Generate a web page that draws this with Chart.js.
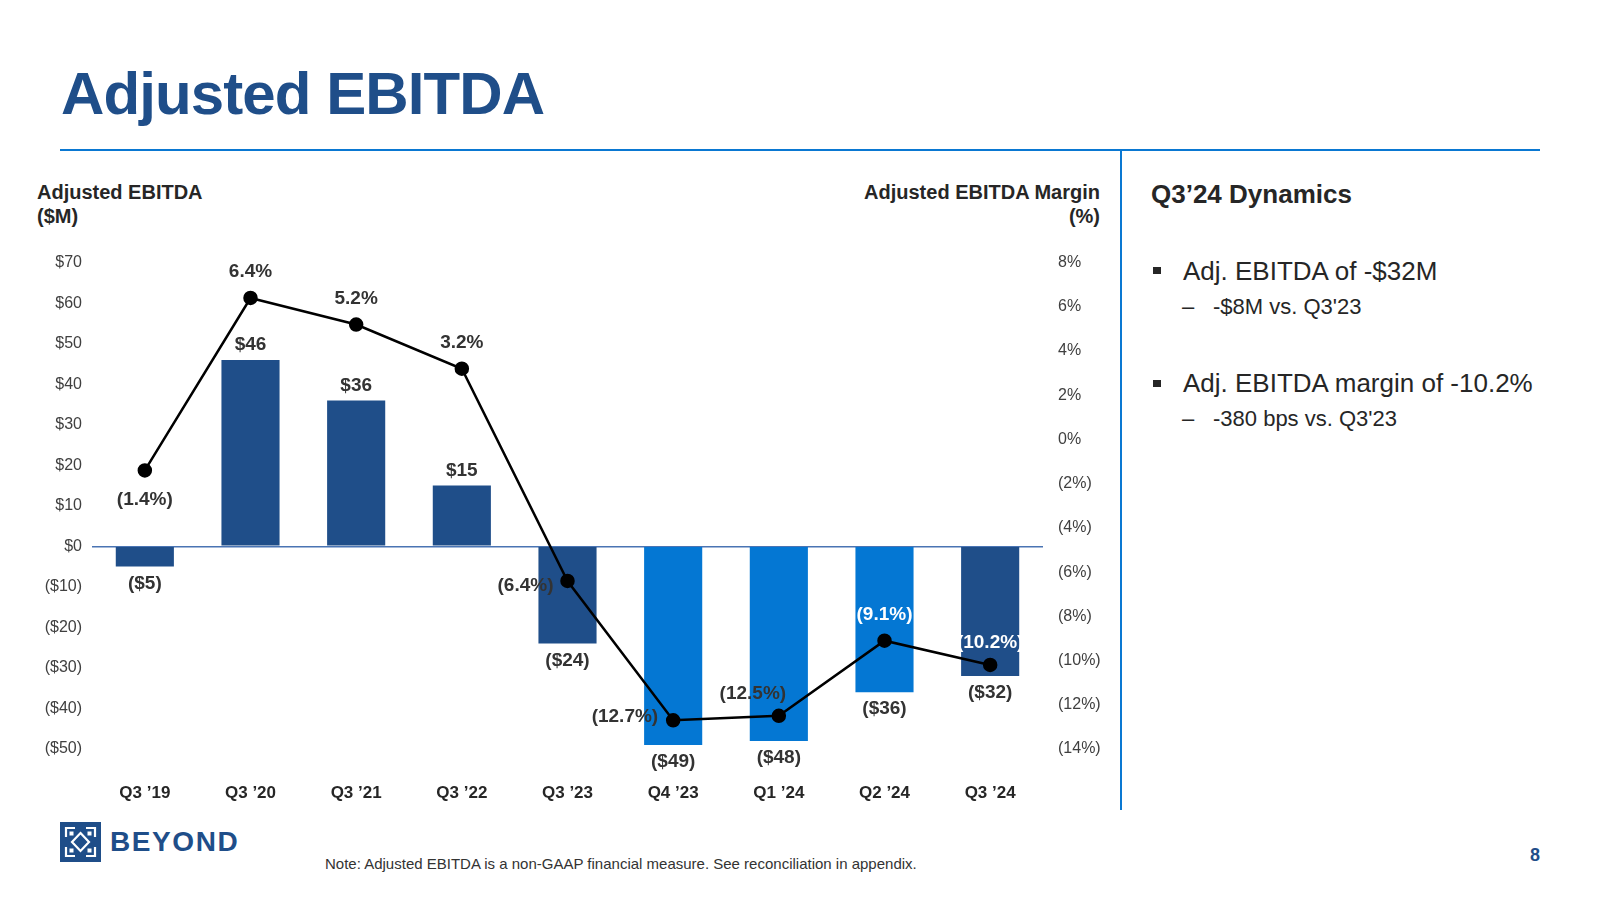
<!DOCTYPE html>
<html lang="en">
<head>
<meta charset="utf-8">
<title>Adjusted EBITDA</title>
<script src="https://cdn.jsdelivr.net/npm/chart.js@4.4.1/dist/chart.umd.min.js"></script>
<style>
  body { margin: 0; background: #fff; font-family: "Liberation Sans", Arial, sans-serif; color: #262626; }
  #slide { position: relative; width: 1600px; height: 900px; overflow: hidden; background: #fff; }
  .txt { position: absolute; white-space: nowrap; }
  #titre { left: 61px; top: 64px; font-size: 60px; line-height: 60px; font-weight: bold; color: #1f4e89; letter-spacing: -0.9px; }
  #regle { position: absolute; left: 60px; top: 149px; width: 1480px; height: 2px; background: #0a78d2; }
  #separateur { position: absolute; left: 1120px; top: 149px; width: 2px; height: 661px; background: #0a78d2; }
  .axe-titre { font-size: 20px; line-height: 24px; font-weight: bold; color: #262626; top: 180px; }
  #axe-gauche { left: 37px; }
  #axe-droit { right: 500px; text-align: right; }
  #zone-graphique { position: absolute; left: 0; top: 238px; width: 1110px; height: 582px; }
  #dyn-titre { left: 1151px; top: 181px; font-size: 26px; line-height: 26px; font-weight: bold; }
  .puce { position: absolute; width: 8px; height: 7px; background: #262626; left: 1153px; }
  .point { font-size: 26px; line-height: 26px; left: 1183px; }
  .sous { font-size: 22px; line-height: 22px; left: 1213px; }
  .tiret { font-size: 22px; line-height: 22px; left: 1182px; }
  #note { left: 325px; top: 856px; font-size: 15px; line-height: 15px; color: #333; }
  #page { left: 1530px; top: 846px; font-size: 18px; line-height: 18px; font-weight: bold; color: #1f4e89; }
  #logo { position: absolute; left: 60px; top: 822px; }
  #beyond { left: 110px; top: 828px; font-size: 28px; line-height: 28px; font-weight: bold; color: #1f4e89; letter-spacing: 1.6px; }
</style>
</head>
<body>
<div id="slide">
  <div class="txt" id="titre">Adjusted EBITDA</div>
  <div id="regle"></div>
  <div id="separateur"></div>

  <div class="txt axe-titre" id="axe-gauche">Adjusted EBITDA<br>($M)</div>
  <div class="txt axe-titre" id="axe-droit">Adjusted EBITDA Margin<br>(%)</div>

  <div id="zone-graphique"><canvas id="ebitdaChart"></canvas></div>

  <div class="txt" id="dyn-titre">Q3’24 Dynamics</div>
  <div class="puce" style="top:267px"></div>
  <div class="txt point" style="top:258px">Adj. EBITDA of -$32M</div>
  <div class="txt tiret" style="top:296px">–</div>
  <div class="txt sous" style="top:296px">-$8M vs. Q3'23</div>
  <div class="puce" style="top:380px"></div>
  <div class="txt point" style="top:370px">Adj. EBITDA margin of -10.2%</div>
  <div class="txt tiret" style="top:408px">–</div>
  <div class="txt sous" style="top:408px">-380 bps vs. Q3'23</div>

  <svg id="logo" width="41" height="40" viewBox="0 0 41 40">
    <rect width="41" height="40" fill="#1f4e89"/>
    <g fill="none" stroke="#fff" stroke-width="2.2">
      <path d="M6 15 V6 H15 M26 6 H35 V15 M35 25 V34 H26 M15 34 H6 V25"/>
      <path d="M20.5 11 L29 20 L20.5 29 L12 20 Z"/>
    </g>
    <g fill="#fff">
      <rect x="9.5" y="9.5" width="4" height="4"/>
      <rect x="27.5" y="9.5" width="4" height="4"/>
      <rect x="9.5" y="26.5" width="4" height="4"/>
      <rect x="27.5" y="26.5" width="4" height="4"/>
    </g>
  </svg>
  <div class="txt" id="beyond">BEYOND</div>
  <div class="txt" id="note">Note: Adjusted EBITDA is a non-GAAP financial measure. See reconciliation in appendix.</div>
  <div class="txt" id="page">8</div>
</div>

<script>
// Données
const trimestres = ["Q3 ’19", "Q3 ’20", "Q3 ’21", "Q3 ’22", "Q3 ’23", "Q4 ’23", "Q1 ’24", "Q2 ’24", "Q3 ’24"];
const ebitda = [-5, 46, 36, 15, -24, -49, -48, -36, -32];      // $M
const marge = [-1.4, 6.4, 5.2, 3.2, -6.4, -12.7, -12.5, -9.1, -10.2]; // %

// Couleurs des barres (bleu clair pour Q4'23 à Q2'24)
const bleuFonce = "#1f4e89";
const bleuClair = "#0477d3";
const couleursBarres = [bleuFonce, bleuFonce, bleuFonce, bleuFonce, bleuFonce, bleuClair, bleuClair, bleuClair, bleuFonce];

// Placement des étiquettes de marge : [dx, dy, alignement, couleur]
const placementMarge = [
  [0, 29, "center", "#333"],
  [0, -26, "center", "#333"],
  [0, -26, "center", "#333"],
  [0, -26, "center", "#333"],
  [-14, 5, "right", "#333"],
  [-15, -3, "right", "#333"],
  [-26, -22, "center", "#333"],
  [0, -26, "center", "#fff"],
  [0, -22, "center", "#fff"]
];

const police = '"Liberation Sans", Arial, sans-serif';

function formatDollar(v) {
  return v < 0 ? "($" + (-v) + ")" : "$" + v;
}
function formatPct(v) {
  return v < 0 ? "(" + (-v) + "%)" : v + "%";
}

// Étiquettes des barres et de la courbe
const pluginEtiquettes = {
  id: "etiquettes",
  afterDatasetsDraw(chart) {
    const ctx = chart.ctx;
    const barres = chart.getDatasetMeta(0).data;
    const points = chart.getDatasetMeta(1).data;
    ctx.save();
    ctx.font = "bold 19px " + police;
    ctx.textBaseline = "middle";

    // === Valeurs des barres ===
    ctx.fillStyle = "#333";
    ctx.textAlign = "center";
    barres.forEach((b, i) => {
      const v = ebitda[i];
      const y = v >= 0 ? b.y - 15 : b.y + 17;
      ctx.fillText(formatDollar(v), b.x, y);
    });

    // === Marges ===
    points.forEach((p, i) => {
      const [dx, dy, align, couleur] = placementMarge[i];
      ctx.fillStyle = couleur;
      ctx.textAlign = align;
      ctx.fillText(formatPct(marge[i]), p.x + dx, p.y + dy);
    });
    ctx.restore();
  }
};

const ctxEbitda = document.getElementById("ebitdaChart").getContext("2d");
new Chart(ctxEbitda, {
  type: "bar",
  data: {
    labels: trimestres,
    datasets: [
      {
        type: "bar",
        label: "Adjusted EBITDA",
        data: ebitda,
        yAxisID: "y",
        backgroundColor: couleursBarres,
        borderWidth: 0,
        categoryPercentage: 1,
        barPercentage: 0.55,
        order: 2
      },
      {
        type: "line",
        label: "Adjusted EBITDA Margin",
        data: marge,
        yAxisID: "y1",
        borderColor: "#000",
        borderWidth: 2.5,
        pointRadius: 6,
        pointBackgroundColor: "#000",
        pointBorderColor: "#000",
        tension: 0,
        order: 1
      }
    ]
  },
  options: {
    responsive: true,
    maintainAspectRatio: false,
    animation: false,
    layout: { padding: { top: 16, left: 0, right: 0, bottom: 0 } },
    plugins: {
      legend: { display: false },
      tooltip: { enabled: false }
    },
    scales: {
      x: {
        grid: { display: false, drawTicks: false },
        border: { display: false },
        ticks: { padding: 34, color: "#262626", font: { family: police, size: 17, weight: "bold" } },
        afterFit: s => { s.height = 71; }
      },
      y: {
        position: "left",
        min: -50,
        max: 70,
        ticks: { stepSize: 10, padding: 10, color: "#404040", font: { family: police, size: 16 }, callback: formatDollar },
        grid: {
          drawTicks: false,
          lineWidth: 1.5,
          color: c => (c.tick && c.tick.value === 0 ? "#4a74b3" : "rgba(0,0,0,0)")
        },
        border: { display: false },
        afterFit: s => { s.width = 92; }
      },
      y1: {
        position: "right",
        min: -14,
        max: 8,
        ticks: { stepSize: 2, padding: 15, color: "#404040", font: { family: police, size: 16 }, callback: formatPct },
        grid: { display: false, drawTicks: false },
        border: { display: false },
        afterFit: s => { s.width = 67; }
      }
    }
  },
  plugins: [pluginEtiquettes]
});
</script>
</body>
</html>
